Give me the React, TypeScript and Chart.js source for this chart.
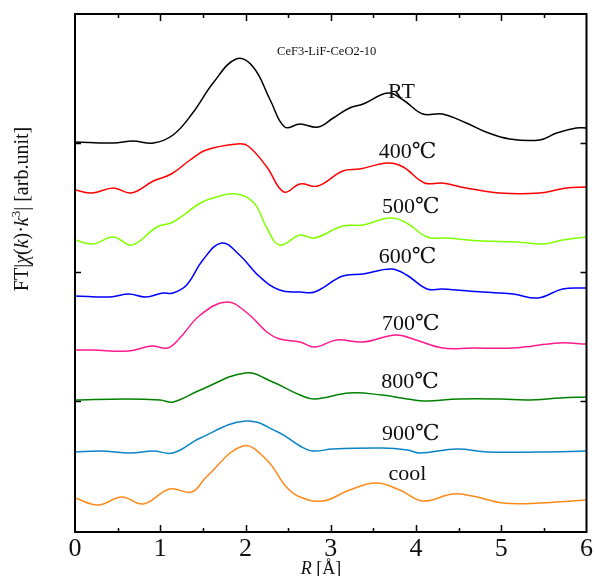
import React, { useEffect, useRef } from "react";
import { Chart, registerables } from "chart.js";

Chart.register(...registerables);

// ---- data (R in Å, FT magnitude in arbitrary stacked units) ----
const seriesNames = ["RT", "400℃", "500℃", "600℃", "700℃", "800℃", "900℃", "cool"];

const rtR = [0, 0.45, 0.68, 0.92, 1.15, 1.38, 1.62, 1.89, 2.09, 2.29, 2.46, 2.64, 2.85, 3.03, 3.22, 3.38, 3.67, 3.85, 4.08, 4.31, 4.59, 4.82, 5.1, 5.45, 5.65, 5.88, 6];
const rtY = [390, 389, 391, 389, 397, 419, 449, 473, 465, 432, 405, 408, 405, 414, 424, 428, 439, 432, 418, 418, 409, 400, 393, 392, 399, 404, 404];

const t400R = [0, 0.2, 0.45, 0.66, 0.92, 1.13, 1.35, 1.54, 1.9, 2.03, 2.25, 2.45, 2.64, 2.85, 3.14, 3.34, 3.67, 3.85, 4.1, 4.31, 4.59, 4.98, 5.45, 5.76, 6];
const t400Y = [342, 339, 344, 339, 351, 358, 372, 382, 388, 386, 365, 340, 348, 346, 361, 363, 369, 365, 349, 349, 344, 339, 339, 344, 345];

const t500R = [0, 0.21, 0.45, 0.67, 0.96, 1.15, 1.47, 1.62, 1.89, 2.1, 2.25, 2.4, 2.64, 2.81, 3.14, 3.38, 3.69, 3.89, 4.13, 4.36, 4.78, 5.18, 5.49, 5.72, 6];
const t500Y = [292, 288, 295, 287, 305, 310, 329, 334, 338, 329, 304, 287, 297, 294, 306, 307, 314, 309, 295, 294, 291, 290, 288, 292, 295];

const t600R = [0, 0.41, 0.63, 0.83, 1.03, 1.15, 1.31, 1.5, 1.72, 1.93, 2.17, 2.4, 2.64, 2.81, 3.14, 3.38, 3.71, 3.89, 4.13, 4.31, 4.78, 5.14, 5.43, 5.72, 6];
const t600Y = [236, 235, 238, 235, 239, 239, 247, 272, 289, 277, 255, 242, 240, 240, 256, 258, 263, 257, 243, 243, 240, 238, 234, 243, 244];

const t700R = [0, 0.2, 0.63, 0.9, 1.09, 1.23, 1.47, 1.78, 2.02, 2.25, 2.4, 2.64, 2.81, 3.07, 3.38, 3.77, 4.0, 4.31, 4.66, 5.14, 5.68, 6];
const t700Y = [182, 182, 181, 186, 184, 194, 217, 230, 219, 200, 193, 190, 185, 192, 190, 197, 192, 184, 184, 184, 189, 188];

const t800R = [0, 0.6, 1.0, 1.15, 1.47, 2.0, 2.32, 2.64, 2.81, 3.22, 3.6, 3.9, 4.1, 4.5, 5.0, 5.3, 5.7, 6];
const t800Y = [132, 133, 132, 130, 142, 159, 150, 137, 133, 139, 137, 133, 131, 133, 133, 132, 134, 135];

const t900R = [0, 0.3, 0.65, 0.92, 1.15, 1.47, 2.0, 2.38, 2.64, 2.79, 3.02, 3.6, 3.9, 4.04, 4.48, 4.84, 5.45, 6];
const t900Y = [80, 81, 79, 81, 79, 94, 111, 100, 86, 81, 83, 84, 82, 79, 83, 80, 80, 81];

const coolR = [0, 0.27, 0.55, 0.8, 1.11, 1.37, 1.54, 1.97, 2.25, 2.48, 2.64, 2.91, 3.22, 3.53, 3.81, 4.08, 4.43, 4.66, 5.02, 5.45, 6];
const coolY = [34, 27, 35, 28, 43, 40, 55, 86, 72, 45, 35, 31, 42, 49, 42, 31, 38, 36, 29, 29, 32];

const xTickValues = [0, 1, 2, 3, 4, 5, 6];
const yTickValues = [131, 260, 389];
const sampleName = "CeF3-LiF-CeO2-10";

const seriesR = [rtR, t400R, t500R, t600R, t700R, t800R, t900R, coolR];
const seriesY = [rtY, t400Y, t500Y, t600Y, t700Y, t800Y, t900Y, coolY];
const colors = ["#000000", "#ff0000", "#80ff00", "#0000ff", "#ff1a8c", "#008000", "#0a84c8", "#ff8a1a"];
// label anchors in data units (R, y)
const labelAnchors: [number, number][] = [
  [3.83, 434], [3.9, 374], [3.94, 319], [3.9, 269], [3.94, 202], [3.93, 144], [3.94, 92], [3.9, 52],
];

const SERIF = "'Liberation Serif', 'DejaVu Serif', serif";

export default function App() {
  const ref = useRef<HTMLCanvasElement>(null);
  useEffect(() => {
    const canvas = ref.current!;
    const decor = {
      id: "decor",
      afterDraw(chart: any) {
        const ctx = chart.ctx as CanvasRenderingContext2D;
        const a = chart.chartArea;
        const xs = chart.scales.x;
        const ys = chart.scales.y;
        ctx.save();
        ctx.strokeStyle = "#000";
        ctx.lineWidth = 2;
        ctx.strokeRect(a.left, a.top, a.right - a.left, a.bottom - a.top);
        ctx.lineWidth = 1.5;
        ctx.beginPath();
        for (let v = 0.5; v < 6; v += 0.5) {
          const px = Math.round(xs.getPixelForValue(v)) + 0.5;
          const len = Number.isInteger(v) ? 7 : 4;
          ctx.moveTo(px, a.bottom);
          ctx.lineTo(px, a.bottom - len);
          ctx.moveTo(px, a.top);
          ctx.lineTo(px, a.top + len);
        }
        for (const v of yTickValues) {
          const py = Math.round(ys.getPixelForValue(v)) + 0.5;
          ctx.moveTo(a.left, py);
          ctx.lineTo(a.left + 6, py);
          ctx.moveTo(a.right, py);
          ctx.lineTo(a.right - 6, py);
        }
        ctx.stroke();

        ctx.fillStyle = "#111";
        // sample name
        ctx.font = `12.5px ${SERIF}`;
        ctx.textAlign = "left";
        ctx.textBaseline = "alphabetic";
        ctx.fillText(sampleName, xs.getPixelForValue(2.37), ys.getPixelForValue(477));
        // series labels
        ctx.font = `22px ${SERIF}`;
        ctx.textAlign = "center";
        seriesNames.forEach((n, i) => {
          const [r, y] = labelAnchors[i];
          ctx.fillText(n, xs.getPixelForValue(r), ys.getPixelForValue(y));
        });

        // x title: italic R [Å]
        ctx.textAlign = "left";
        ctx.font = `italic 18px ${SERIF}`;
        const rW = ctx.measureText("R").width;
        ctx.font = `18px ${SERIF}`;
        const restW = ctx.measureText(" [Å]").width;
        let x0 = 321 - (rW + restW) / 2;
        ctx.font = `italic 18px ${SERIF}`;
        ctx.fillText("R", x0, 574);
        ctx.font = `18px ${SERIF}`;
        ctx.fillText(" [Å]", x0 + rW, 574);

        // y title rotated
        const segs: [string, string, number][] = [
          ["FT|", `20px ${SERIF}`, 0],
          ["χ", `italic 20px ${SERIF}`, 0],
          ["(", `20px ${SERIF}`, 0],
          ["k", `italic 20px ${SERIF}`, 0],
          [")·", `20px ${SERIF}`, 0],
          ["k", `italic 20px ${SERIF}`, 0],
          ["3", `13px ${SERIF}`, -8],
          ["| [arb.unit]", `20px ${SERIF}`, 0],
        ];
        let total = 0;
        const widths = segs.map(([t, f]) => {
          ctx.font = f;
          const w = ctx.measureText(t).width;
          total += w;
          return w;
        });
        ctx.translate(28, 209);
        ctx.rotate(-Math.PI / 2);
        let cx = -total / 2;
        segs.forEach(([t, f, dy], i) => {
          ctx.font = f;
          ctx.fillText(t, cx, dy);
          cx += widths[i];
        });
        ctx.restore();
      },
    };

    const chart = new Chart(canvas, {
      type: "line",
      data: {
        datasets: seriesNames.map((n, i) => ({
          label: n,
          data: seriesR[i].map((r, j) => ({ x: r, y: seriesY[i][j] })),
          borderColor: colors[i],
          borderWidth: 1.5,
          pointRadius: 0,
          tension: 0.4,
          fill: false,
        })),
      },
      options: {
        responsive: false,
        animation: false,
        devicePixelRatio: 1,
        layout: { padding: { top: 14, right: 8, left: 0, bottom: 0 } },
        plugins: { legend: { display: false }, tooltip: { enabled: false } },
        scales: {
          x: {
            type: "linear",
            min: 0,
            max: 6,
            afterBuildTicks: (s: any) => {
              s.ticks = xTickValues.map((v) => ({ value: v }));
            },
            afterFit: (s: any) => {
              s.height = 44;
            },
            ticks: {
              color: "#111",
              font: { family: SERIF, size: 26 },
              padding: 2,
              maxRotation: 0,
              autoSkip: false,
            },
            grid: { display: false, drawTicks: false },
            border: { display: false },
          },
          y: {
            type: "linear",
            min: 0,
            max: 518,
            afterFit: (s: any) => {
              s.width = 75;
            },
            ticks: { display: false },
            grid: { display: false, drawTicks: false },
            border: { display: false },
          },
        },
      },
      plugins: [decor],
    });
    return () => chart.destroy();
  }, []);
  return (
    <div style={{ position: "absolute", left: 0, top: 0, width: 595, height: 576, background: "#fff" }}>
      <canvas ref={ref} width={595} height={576} />
    </div>
  );
}
